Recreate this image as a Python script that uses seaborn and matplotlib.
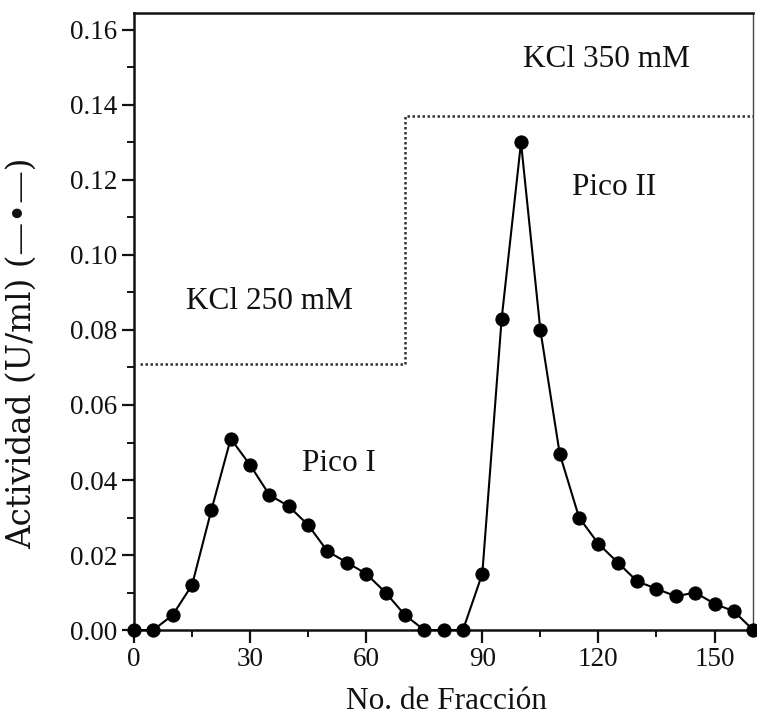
import numpy as np
import pandas as pd
import matplotlib
matplotlib.use("Agg")
import matplotlib.pyplot as plt
import seaborn as sns
from matplotlib.ticker import MultipleLocator

# Fraction numbers and measured activity (U/ml)
fraccion = [0, 5, 10, 15, 20, 25, 30, 35, 40, 45, 50, 55, 60, 65, 70, 75, 80,
            85, 90, 95, 100, 105, 110, 115, 120, 125, 130, 135, 140, 145, 150,
            155, 160]
actividad = [0.000, 0.000, 0.004, 0.012, 0.032, 0.051, 0.044, 0.036, 0.033,
             0.028, 0.021, 0.018, 0.015, 0.010, 0.004, 0.000, 0.000, 0.000,
             0.015, 0.083, 0.130, 0.080, 0.047, 0.030, 0.023, 0.018, 0.013,
             0.011, 0.009, 0.010, 0.007, 0.005, 0.000]

# KCl step gradient (elution profile, drawn on the activity scale)
kcl_x = [1.5, 70, 70, 160]
kcl_y = [0.071, 0.071, 0.137, 0.137]

etiquetas = ["KCl 350 mM", "Pico II", "KCl 250 mM", "Pico I"]
etiqueta_pos = [(122, 0.152), (124, 0.118), (35, 0.0875), (53, 0.0445)]

x_ticks = [0, 30, 60, 90, 120, 150]
y_ticks = [0.00, 0.02, 0.04, 0.06, 0.08, 0.10, 0.12, 0.14, 0.16]

df = pd.DataFrame({"fraccion": fraccion, "actividad": actividad})

sns.set_theme(style="ticks")
plt.rcParams["font.family"] = ["Liberation Serif", "DejaVu Sans"]

fig = plt.figure(figsize=(7.57, 7.27), dpi=100)
ax = fig.add_axes([0.177, 0.1334, 0.818, 0.8486])

sns.lineplot(data=df, x="fraccion", y="actividad", ax=ax, color="black",
             linewidth=1.5, marker="o", markersize=9.5,
             markerfacecolor="black", markeredgecolor="black",
             clip_on=False, zorder=3)
ax.plot(kcl_x, kcl_y, color="#333333", linestyle=(0, (1, 1)), linewidth=1.8)

for t, (x, y) in zip(etiquetas, etiqueta_pos):
    ax.text(x, y, t, ha="center", va="center", fontsize=22.5, color="#111111")

ax.set_xlim(0, 160)
ax.set_ylim(0, 0.1645)
ax.set_xticks(x_ticks)
ax.set_yticks(y_ticks)
ax.set_yticklabels([f"{v:.2f}" for v in y_ticks])
ax.xaxis.set_minor_locator(MultipleLocator(15))
ax.yaxis.set_minor_locator(MultipleLocator(0.01))

ax.tick_params(axis="both", which="major", direction="out", length=9,
               width=1.6, labelsize=19.5, pad=3, color="#111111",
               labelcolor="#111111")
ax.tick_params(axis="both", which="minor", direction="out", length=5,
               width=1.4, color="#111111")

for side in ["left", "bottom", "top"]:
    ax.spines[side].set_linewidth(1.8)
    ax.spines[side].set_color("#111111")
ax.spines["right"].set_linewidth(1.0)
ax.spines["right"].set_color("#444444")

ax.set_xlabel("No. de Fracción", fontsize=22.5, color="#111111")
ax.xaxis.set_label_coords(0.505, -0.093)
ax.set_ylabel("Actividad (U/ml) (—•—)", fontsize=23.5, color="#111111",
              family=["DejaVu Serif", "DejaVu Sans"])
ax.yaxis.set_label_coords(-0.155, 0.449)

fig.savefig("out.png", dpi=100, facecolor="white")
